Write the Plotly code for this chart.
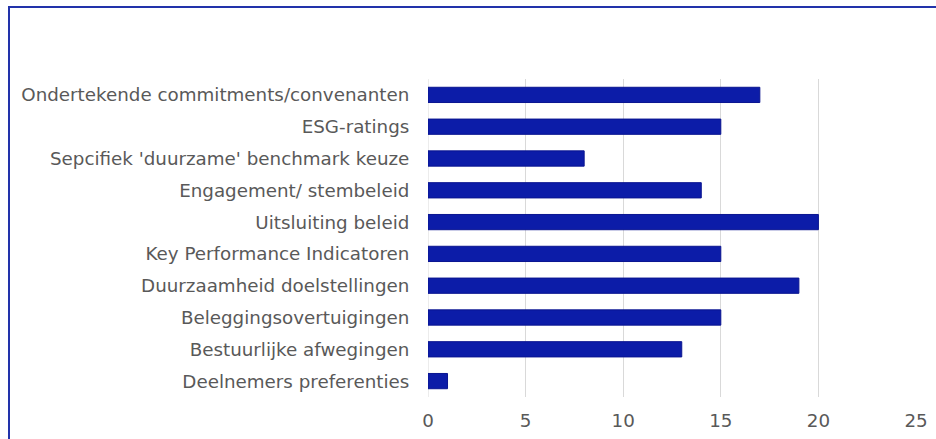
import plotly.graph_objects as go

categories = [
    "Ondertekende commitments/convenanten",
    "ESG-ratings",
    "Sepcifiek 'duurzame' benchmark keuze",
    "Engagement/ stembeleid",
    "Uitsluiting beleid",
    "Key Performance Indicatoren",
    "Duurzaamheid doelstellingen",
    "Beleggingsovertuigingen",
    "Bestuurlijke afwegingen",
    "Deelnemers preferenties",
]
values = [17, 15, 8, 14, 20, 15, 19, 15, 13, 1]
x_ticks = [0, 5, 10, 15, 20, 25]

GREY = "#595959"
FONT = "DejaVu Sans, Verdana, sans-serif"
FS = 18.3

fig = go.Figure(
    go.Bar(
        x=values,
        y=categories,
        orientation="h",
        marker={"color": "#0c1ca8", "line": {"color": "#0a1590", "width": 1}},
        hoverinfo="x+y",
    )
)

fig.update_layout(
    width=936,
    height=439,
    margin={"l": 428, "r": 20, "t": 79, "b": 42, "autoexpand": False},
    paper_bgcolor="white",
    plot_bgcolor="white",
    bargap=0.52,
    showlegend=False,
    font={"family": FONT, "size": FS, "color": GREY},
    xaxis={
        "range": [0, 25],
        "tickvals": x_ticks,
        "showgrid": True,
        "gridcolor": "#d9d9d9",
        "gridwidth": 1,
        "zeroline": False,
        "showline": False,
        "ticks": "outside",
        "ticklen": 7,
        "tickcolor": "rgba(0,0,0,0)",
        "tickfont": {"size": FS, "color": GREY},
        "automargin": False,
        "fixedrange": True,
    },
    yaxis={
        "autorange": "reversed",
        "showgrid": False,
        "zeroline": False,
        "showline": False,
        "ticks": "outside",
        "ticklen": 14,
        "tickcolor": "rgba(0,0,0,0)",
        "tickfont": {"size": FS, "color": GREY},
        "automargin": False,
        "fixedrange": True,
    },
    shapes=[
        {
            "type": "rect",
            "xref": "paper",
            "yref": "paper",
            "x0": -0.8586,
            "x1": 1.1,
            "y0": -0.3,
            "y1": 1.2264,
            "line": {"color": "#2233aa", "width": 2},
            "fillcolor": "rgba(0,0,0,0)",
            "layer": "above",
        },
        {
            "type": "line",
            "xref": "x",
            "yref": "paper",
            "x0": 0,
            "x1": 0,
            "y0": 0,
            "y1": 1,
            "line": {"color": "#d9d9d9", "width": 1},
            "layer": "below",
        },
    ],
)

fig.write_html(
    "out.html",
    config={"displayModeBar": False},
    post_script="document.body.style.margin='0';document.body.style.overflow='hidden';",
)
